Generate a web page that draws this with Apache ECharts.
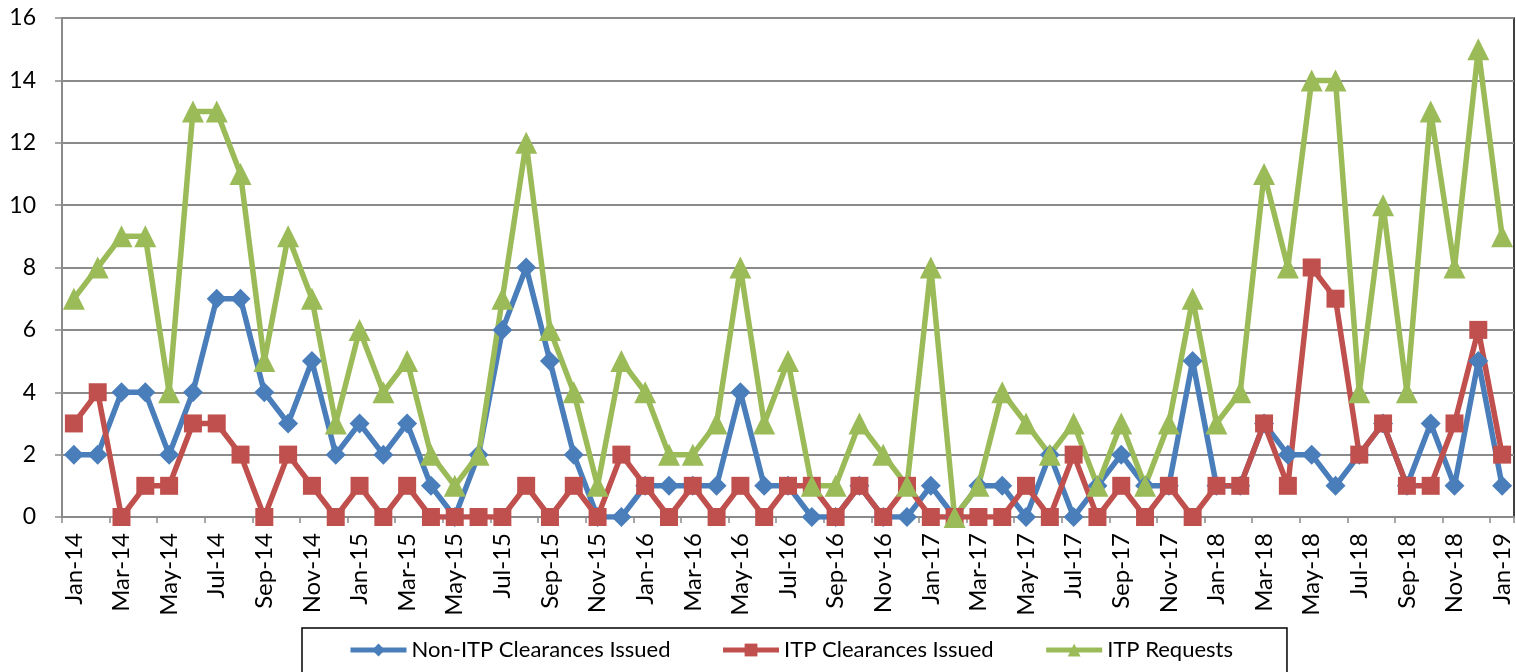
<!DOCTYPE html>
<html>
<head>
<meta charset="utf-8">
<script src="https://cdn.jsdelivr.net/npm/echarts@6/dist/echarts.min.js"></script>
<style>
  html, body { margin: 0; padding: 0; background: #fff; }
  #chart { width: 1516px; height: 672px; }
</style>
</head>
<body>
<div id="chart"></div>
<script>
// Month categories (Jan-14 .. Jan-19)
const months = [
  'Jan-14', 'Feb-14', 'Mar-14', 'Apr-14', 'May-14', 'Jun-14', 'Jul-14', 'Aug-14', 'Sep-14', 'Oct-14', 'Nov-14', 'Dec-14',
  'Jan-15', 'Feb-15', 'Mar-15', 'Apr-15', 'May-15', 'Jun-15', 'Jul-15', 'Aug-15', 'Sep-15', 'Oct-15', 'Nov-15', 'Dec-15',
  'Jan-16', 'Feb-16', 'Mar-16', 'Apr-16', 'May-16', 'Jun-16', 'Jul-16', 'Aug-16', 'Sep-16', 'Oct-16', 'Nov-16', 'Dec-16',
  'Jan-17', 'Feb-17', 'Mar-17', 'Apr-17', 'May-17', 'Jun-17', 'Jul-17', 'Aug-17', 'Sep-17', 'Oct-17', 'Nov-17', 'Dec-17',
  'Jan-18', 'Feb-18', 'Mar-18', 'Apr-18', 'May-18', 'Jun-18', 'Jul-18', 'Aug-18', 'Sep-18', 'Oct-18', 'Nov-18', 'Dec-18',
  'Jan-19'
]

// Series values
const nonItpIssued = [
  2, 2, 4, 4, 2, 4, 7, 7, 4, 3, 5, 2,
  3, 2, 3, 1, 0, 2, 6, 8, 5, 2, 0, 0,
  1, 1, 1, 1, 4, 1, 1, 0, 0, 1, 0, 0,
  1, 0, 1, 1, 0, 2, 0, 1, 2, 1, 1, 5,
  1, 1, 3, 2, 2, 1, 2, 3, 1, 3, 1, 5,
  1
]
const itpIssued = [
  3, 4, 0, 1, 1, 3, 3, 2, 0, 2, 1, 0,
  1, 0, 1, 0, 0, 0, 0, 1, 0, 1, 0, 2,
  1, 0, 1, 0, 1, 0, 1, 1, 0, 1, 0, 1,
  0, 0, 0, 0, 1, 0, 2, 0, 1, 0, 1, 0,
  1, 1, 3, 1, 8, 7, 2, 3, 1, 1, 3, 6,
  2
]
const itpRequests = [
  7, 8, 9, 9, 4, 13, 13, 11, 5, 9, 7, 3,
  6, 4, 5, 2, 1, 2, 7, 12, 6, 4, 1, 5,
  4, 2, 2, 3, 8, 3, 5, 1, 1, 3, 2, 1,
  8, 0, 1, 4, 3, 2, 3, 1, 3, 1, 3, 7,
  3, 4, 11, 8, 14, 14, 4, 10, 4, 13, 8, 15,
  9
]

const seriesNames = ['Non-ITP Clearances Issued', 'ITP Clearances Issued', 'ITP Requests']

const font = 'Lato, "Open Sans", sans-serif'
const gridGray = '#8a8a8a'

const chart = echarts.init(document.getElementById('chart'))

const lineSeries = (name, data, color, symbol, size) => ({
  name,
  type: 'line',
  data,
  symbol,
  symbolSize: size,
  showSymbol: true,
  showAllSymbol: true,
  lineStyle: { color, width: 5.5 },
  itemStyle: { color, borderWidth: 0 },
  emphasis: { disabled: true },
  animation: false
})

const option = {
  backgroundColor: '#fff',
  animation: false,
  grid: {
    left: 62,
    right: 2,
    top: 18,
    bottom: 155,
    show: true,
    borderColor: '#000',
    borderWidth: 1.5
  },
  legend: {
    left: 302,
    top: 628,
    data: seriesNames,
    itemWidth: 56,
    itemHeight: 16,
    itemGap: 50,
    padding: [11, 54, 14, 46],
    borderColor: '#000',
    borderWidth: 1.5,
    lineStyle: { width: 5 },
    textStyle: { fontFamily: font, fontSize: 22, color: '#000' }
  },
  xAxis: {
    type: 'category',
    data: months,
    boundaryGap: true,
    axisLine: { lineStyle: { color: gridGray, width: 2 } },
    axisTick: { show: true, interval: 1, length: 6, lineStyle: { color: gridGray, width: 1.5 } },
    axisLabel: {
      interval: 1,
      rotate: 90,
      margin: 16,
      fontFamily: font,
      fontSize: 24,
      color: '#000'
    },
    splitLine: { show: false }
  },
  yAxis: {
    type: 'value',
    min: 0,
    max: 16,
    interval: 2,
    axisLine: { show: true, lineStyle: { color: gridGray, width: 2 } },
    axisTick: { show: true, length: 7, lineStyle: { color: gridGray, width: 1.5 } },
    axisLabel: { margin: 26, fontFamily: font, fontSize: 23, color: '#000' },
    splitLine: { lineStyle: { color: gridGray, width: 2 } }
  },
  series: [
    lineSeries(seriesNames[0], nonItpIssued, '#4a7ebb', 'diamond', 20),
    lineSeries(seriesNames[1], itpIssued, '#c0504d', 'rect', 18),
    lineSeries(seriesNames[2], itpRequests, '#9bbb59', 'triangle', 22)
  ]
}

chart.setOption(option)
</script>
</body>
</html>
